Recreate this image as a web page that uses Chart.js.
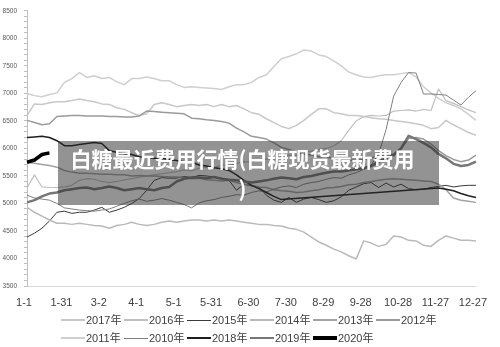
<!DOCTYPE html>
<html>
<head>
<meta charset="utf-8">
<script src="https://cdn.jsdelivr.net/npm/chart.js@4.4.0/dist/chart.umd.min.js"></script>
<style>
    body { margin: 0; background: #fff; }
    #wrap { position: relative; width: 500px; height: 347px; overflow: hidden; }
    #overlay {
        position: absolute; left: 58px; top: 141px; width: 381px; height: 64px;
        box-sizing: border-box; padding: 2px 12px 0 0;
        background: rgba(40, 40, 40, 0.5); color: #fff; text-align: center;
        font: 700 21px/30px "Noto Sans CJK SC", sans-serif;
    }
    .lg-line { position: absolute; width: 24px; }
    .lg-text { position: absolute; font: 11px/13px "Liberation Sans", "Noto Sans CJK SC", sans-serif; color: #404040; white-space: nowrap; }
</style>
</head>
<body>
<div id="wrap">
    <canvas id="sugarChart" width="500" height="347"></canvas>
    <div id="overlay">白糖最近费用行情(白糖现货最新费用<br>)</div>
    <div id="legend"></div>
</div>
<script>
// tick labels on the x axis (every 30 days)
const tickLabels = ["1-1", "1-31", "3-2", "4-1", "5-1", "5-31", "6-30", "7-30", "8-29", "9-28", "10-28", "11-27", "12-27"];

// one category every 6 days through the year
const categories = [];
for (let d = 0; d <= 360; d += 6) {
    const dt = new Date(2019, 0, 1 + d);
    categories.push((dt.getMonth() + 1) + "-" + dt.getDate());
}

const y2017 = [6600,6810,6800,6830,6850,6850,6870,6900,6870,6850, 6810,6800,6740,6710,6650,6600,6630,6800,6830,6800,
               6760,6780,6800,6780,6800,6760,6800,6760,6780,6720, 6650,6620,6540,6470,6400,6360,6420,6510,6620,6720,
               6720,6650,6630,6600,6600,6580,6560,6540,6530,6510, 6490,6470,6450,6420,6360,6380,6510,6430,6360,6290, 6240];
const y2016 = [5280,5520,5300,5290,5290,5300,5330,5420,5450,5440, 5400,5380,5400,5430,5450,5480,5500,5520,5540,5560,
               5580,5610,5590,5640,5660,5650,5700,5690,5730,5760, 5750,5790,5810,5800,5850,5880,5870,5920,5950,5980,
               6000,6050,6140,6330,6500,6580,6600,6590,6600,6680, 6690,6700,6680,6710,6690,7080,6870,6820,6760,6700, 6650];
const y2015 = [4390,4460,4550,4680,4840,4860,4820,4840,4840,4880, 4930,4840,4880,4930,5000,5090,5240,5420,5470,5460,
               5460,5490,5470,5510,5500,5480,5460,5420,5240,5350, 5320,5300,5150,5060,5020,5110,5020,5080,5110,5070,
               5020,5050,5120,5240,5300,5360,5380,5290,5370,5300, 5350,5270,5250,5260,5290,5310,5330,5300,5320,5330, 5330];
const y2014 = [4930,4840,4770,4700,4640,4640,4620,4640,4620,4600, 4590,4550,4600,4620,4660,4620,4600,4620,4660,4680,
               4660,4680,4700,4700,4680,4700,4680,4700,4680,4660, 4640,4620,4620,4600,4590,4550,4530,4480,4390,4300,
               4240,4170,4120,4050,3990,4320,4280,4220,4260,4410, 4390,4330,4320,4240,4220,4330,4410,4370,4330,4330, 4320];
const y2013 = [5750,5730,5710,5690,5660,5600,5570,5550,5550,5540, 5530,5530,5520,5520,5500,5510,5500,5500,5490,5480,
               5480,5470,5450,5460,5430,5420,5410,5420,5380,5350, 5330,5300,5290,5250,5230,5220,5200,5210,5230,5250,
               5280,5290,5310,5340,5350,5380,5400,5420,5440,5450, 5440,5430,5420,5410,5400,5350,5250,5100,5060,5040, 5020];
const y2012 = [6510,6470,6430,6450,6580,6590,6600,6600,6590,6590, 6590,6580,6580,6570,6570,6590,6680,6670,6660,6650,
               6640,6630,6550,6540,6520,6510,6490,6460,6370,6300, 6220,6200,6170,6100,6020,5980,5940,5900,5880,5850,
               5840,5820,5800,5790,5780,5800,5830,5860,5880,5900, 6000,6180,6200,6170,6080,5960,5870,5800,5760,5790, 5880];
const y2011 = [7000,6960,6940,6980,7010,7200,7270,7380,7290,7320, 7270,7290,7210,7160,7270,7270,7300,7270,7230,7230,
               7160,7110,7120,7110,7100,7090,7070,7120,7160,7160, 7200,7290,7340,7490,7630,7670,7720,7790,7770,7700,
               7670,7590,7500,7390,7340,7300,7290,7320,7340,7340, 7360,7380,7300,7120,7010,6910,6830,6780,6720,6620, 6510];
const y2010 = [5150,5100,5080,5060,5000,4920,4900,4880,4870,4860, 4880,4900,4950,5000,5050,5080,5040,5060,5090,5060,
               5020,4980,4920,5010,5050,5070,5110,5130,5160,5150, 5200,5230,5210,5260,5300,5320,5290,5350,5380,5400,
               5440,5470,5460,5520,5560,5620,5700,5900,6350,6950, 7200,7380,7370,6990,6990,6980,6970,6880,6790,6930, 7050];
// 2018 has no data from mid-August to late November (drawn as a straight line)
const y2018 = [6200,6210,6220,6200,6140,6050,6050,6070,6090,6110, 6090,5960,5930,5910,5890,5850,5840,5820,5820,5800,
               5780,5760,5750,5700,5680,5650,5630,5600,5520,5420, 5330,5270,5200,5130,5070,null,null,null,null,null,
               null,null,null,null,null,null,null,null,null,null, null,null,null,null,null,5280,5260,5230,5180,5140, 5110];
const y2019 = [5020,5060,5130,5180,5200,5240,5260,5280,5290,5260, 5280,5310,5280,5240,5260,5280,5260,5240,5280,5300,
               5400,5450,5470,5470,5460,5480,5450,5430,5420,5400, 5380,5400,5420,5450,5470,5460,5440,5480,5500,5530,
               5560,5580,5580,5600,5620,5640,5680,5760,5820,5880, 6000,6230,6170,6100,6020,5900,5820,5720,5680,5700, 5760];
const y2020 = [5750,5790,5890,5920];

const seriesNames = ["2017年", "2016年", "2015年", "2014年", "2013年", "2012年", "2011年", "2010年", "2018年", "2019年", "2020年"];
const seriesData = [y2017, y2016, y2015, y2014, y2013, y2012, y2011, y2010, y2018, y2019, y2020];
const seriesColors = ["#c8c8c8", "#c0c0c0", "#3a3a3a", "#bababa", "#a3a3a3", "#9a9a9a", "#cfcfcf", "#808080", "#1e1e1e", "#777777", "#000000"];
const seriesWidths = [1.5, 1.2, 1, 1.5, 1.5, 1.5, 1.5, 1, 1.5, 2.5, 3.5];

Chart.defaults.font.family = '"Liberation Sans", "Noto Sans CJK SC", sans-serif';

const datasets = seriesNames.map((name, i) => ({
    label: name,
    data: seriesData[i],
    borderColor: seriesColors[i],
    backgroundColor: seriesColors[i],
    borderWidth: seriesWidths[i],
    pointRadius: 0,
    tension: 0,
    borderJoinStyle: "round",
    spanGaps: name === "2018年",
    order: seriesNames.length - i   // later years drawn on top
}));

const ctx = document.getElementById("sugarChart").getContext("2d");
const sugarChart = new Chart(ctx, {
    type: "line",
    data: { labels: categories, datasets: datasets },
    options: {
        responsive: false,
        animation: false,
        layout: { padding: { top: 10, right: 23, bottom: 35, left: 0 } },
        plugins: { legend: { display: false }, tooltip: { enabled: false } },
        scales: {
            x: {
                grid: { drawOnChartArea: false, drawTicks: false },
                border: { display: true, color: "#d9d9d9" },
                ticks: {
                    autoSkip: false, maxRotation: 0, padding: 10, labelOffset: -3,
                    color: "#404040", font: { size: 11 },
                    callback: (v, i) => tickLabels.includes(categories[i]) ? categories[i] : ""
                },
                afterFit: s => { s.height = 26; }
            },
            y: {
                min: 3500, max: 8500,
                grid: { drawOnChartArea: false, tickLength: 3, color: "#bfbfbf" },
                border: { color: "#bfbfbf" },
                ticks: {
                    stepSize: 100, autoSkip: false, maxTicksLimit: 100, padding: 7,
                    color: "#595959", font: { size: 6.5 },
                    callback: v => v % 500 === 0 ? v : ""
                },
                afterFit: s => { s.width = 27; }
            }
        }
    }
});

// legend laid out like the original: 6 items on the first row, 5 on the second
const legendBox = document.getElementById("legend");
seriesNames.forEach((name, i) => {
    const row = i < 6 ? 0 : 1;
    const col = i < 6 ? i : i - 6;
    const left = 61 + col * 63;
    const cy = row === 0 ? 320 : 338;

    const line = document.createElement("div");
    line.className = "lg-line";
    line.style.left = left + "px";
    line.style.top = (cy - seriesWidths[i] / 2) + "px";
    line.style.height = seriesWidths[i] + "px";
    line.style.background = seriesColors[i];
    legendBox.appendChild(line);

    const text = document.createElement("div");
    text.className = "lg-text";
    text.style.left = (left + 25) + "px";
    text.style.top = (cy - 6.5) + "px";
    text.innerText = name;
    legendBox.appendChild(text);
});
</script>
</body>
</html>
